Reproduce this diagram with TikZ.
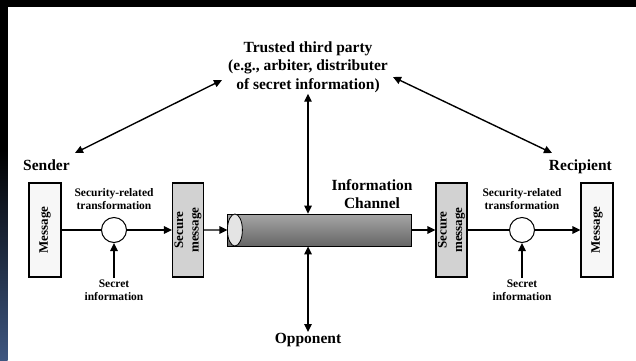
\documentclass[tikz,border=0pt]{standalone}
\usepackage{fontspec}
\setmainfont{Liberation Serif}
\usetikzlibrary{positioning,arrows.meta,shapes.geometric}
\definecolor{dBlue}{RGB}{62,86,128}
\definecolor{dBox}{RGB}{210,210,210}
\definecolor{dFace}{RGB}{228,228,228}
\tikzset{
  msg/.style={rectangle, rotate=90, draw, line width=1.2pt, fill=white!97!black,
              minimum width=94pt, minimum height=32pt, inner sep=0pt, align=center,
              font=\fontsize{13}{15.5}\selectfont\bfseries},
  smsg/.style={msg, fill=dBox, minimum height=31pt},
  xform/.style={circle, draw, line width=1pt, fill=white, minimum size=25pt, inner sep=0pt},
  chan/.style={cylinder, shape border rotate=180, aspect=0.47, draw, line width=0.8pt,
               minimum width=32pt, minimum height=184pt, inner sep=0pt,
               path picture={\shade[top color=black!35, middle color=black, bottom color=black!60]
                 (path picture bounding box.south west) rectangle (path picture bounding box.north east);}},
  flow/.style={-{Triangle[length=8pt,width=7.5pt]}, line width=1.4pt},
  biflow/.style={{Triangle[length=8pt,width=7.5pt]}-{Triangle[length=8pt,width=7.5pt]}, line width=1.4pt},
  head/.style={font=\fontsize{15.5}{18.5}\selectfont\bfseries, align=center, inner sep=1pt},
  lbl/.style={font=\fontsize{11.5}{13.5}\selectfont\bfseries, align=center, inner sep=1pt},
}

\begin{document}
\begin{tikzpicture}[x=1pt,y=1pt]
  % --- frame ---
  \useasboundingbox (0,0) rectangle (636,360);
  \fill[black] (0,0) rectangle (636,360);
  \shade[top color=black, bottom color=dBlue] (0,0) rectangle (7.5,210);
  \fill[white] (7.5,0) rectangle (636,353);

  % --- sender side ---
  \node[head, anchor=west] (snd) at (22,195) {Sender};
  \node[msg] (m1) at (45,130) {Message};
  \node[xform] (c1) at (114,130) {};
  \node[lbl] (t1) at (114,161) {Security-related\\transformation};
  \node[lbl] (k1) at (114,70) {Secret\\information};
  \node[smsg] (s1) at (188,130) {Secure\\message};

  % --- channel ---
  \node[chan] (ch) at (320,130) {};
  \draw[line width=0.8pt, fill=dFace] ([xshift=7.5pt]ch.west) ellipse (7.5pt and 16pt);
  \node[head] (info) at (372,166) {Information\\Channel};

  % --- recipient side ---
  \node[smsg] (s2) at (451.5,130) {Secure\\message};
  \node[xform] (c2) at (522,130) {};
  \node[lbl] (t2) at (522,161) {Security-related\\transformation};
  \node[lbl] (k2) at (522,70) {Secret\\information};
  \node[msg] (m2) at (597,130) {Message};
  \node[head, anchor=east] (rcp) at (613,193) {Recipient};

  % --- third party and opponent ---
  \node[head] (ttp) at (308,293) {Trusted third party\\(e.g., arbiter, distributer\\of secret information)};
  \node[head] (opp) at (308,20) {Opponent};
  \coordinate (tl) at (222,280);
  \coordinate (sl) at (75,207);
  \coordinate (tr) at (393,283);
  \coordinate (rl) at (552,207);

  % --- message path ---
  \draw[line width=1.4pt] (m1) -- (c1);
  \draw[flow] (c1) -- (s1);
  \draw[flow] (s1) -- (ch);
  \draw[flow] (ch) -- (s2);
  \draw[line width=1.4pt] (s2) -- (c2);
  \draw[flow] (c2) -- (m2);

  % --- secret information ---
  \draw[flow] (k1) -- (c1);
  \draw[flow] (k2) -- (c2);

  % --- links to third party / opponent ---
  \draw[biflow] (ttp) -- (ttp |- ch.north);
  \draw[biflow] (opp) -- (opp |- ch.south);
  \draw[biflow] (tl) -- (sl);
  \draw[biflow] (tr) -- (rl);
\end{tikzpicture}
\end{document}
